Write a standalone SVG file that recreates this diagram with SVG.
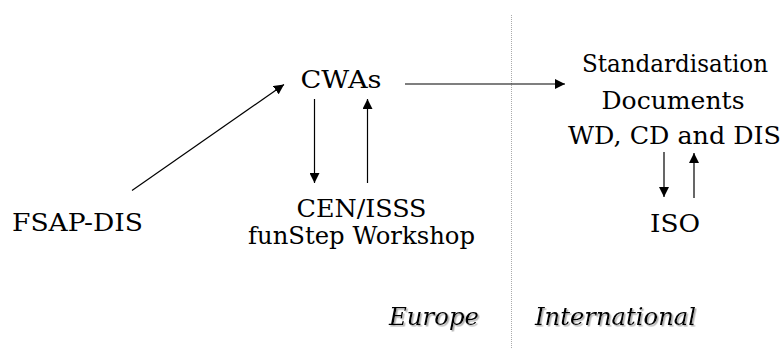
<svg xmlns="http://www.w3.org/2000/svg" width="783" height="349" viewBox="0 0 783 349">
<defs>
<marker id="ah" viewBox="0 0 10 10" refX="10" refY="5" markerWidth="10" markerHeight="10" markerUnits="userSpaceOnUse" orient="auto">
<path d="M0,0 L10,5 L0,10 Z" fill="#000"/>
</marker>
<filter id="sh" x="-10%" y="-20%" width="130%" height="150%">
<feDropShadow dx="1.5" dy="1.5" stdDeviation="0.6" flood-color="#999" flood-opacity="0.8"/>
</filter>
</defs>
<style>
.c{stroke:#000;stroke-width:1.2;fill:none;marker-end:url(#ah)}
.div{stroke:#aaa;stroke-width:1;stroke-dasharray:1 1;fill:none}
.t{font-family:"DejaVu Serif", "Liberation Serif", serif;font-size:25px;fill:#000;text-anchor:middle}
</style>
<rect width="783" height="349" fill="#fff"/>
<line class="div" x1="511.5" y1="15" x2="511.5" y2="349"/>
<g id="connectors">
<line class="c" x1="132" y1="190.5" x2="284" y2="84.5"/>
<line class="c" x1="314.5" y1="99" x2="314.5" y2="183"/>
<line class="c" x1="367.5" y1="183" x2="367.5" y2="99"/>
<line class="c" x1="405" y1="84" x2="565" y2="84"/>
<line class="c" x1="664" y1="152" x2="664" y2="197"/>
<line class="c" x1="694" y1="198" x2="694" y2="153"/>
</g>
<g class="t">
<g id="cwas"><text x="341" y="88" textLength="81" lengthAdjust="spacingAndGlyphs">CWAs</text></g>
<g id="fsap"><text x="77.5" y="231" textLength="131" lengthAdjust="spacingAndGlyphs">FSAP-DIS</text></g>
<g id="cen"><text x="361.5" y="216.5" textLength="130" lengthAdjust="spacingAndGlyphs">CEN/ISSS</text><text x="361.5" y="244" textLength="227" lengthAdjust="spacingAndGlyphs">funStep Workshop</text></g>
<g id="std"><text x="675" y="72" textLength="186" lengthAdjust="spacingAndGlyphs">Standardisation</text><text x="673" y="108.5" textLength="143" lengthAdjust="spacingAndGlyphs">Documents</text><text x="674.5" y="144" textLength="213" lengthAdjust="spacingAndGlyphs">WD, CD and DIS</text></g>
<g id="iso"><text x="675" y="232" textLength="50" lengthAdjust="spacingAndGlyphs">ISO</text></g>
<g id="europe"><text x="434" y="325" font-style="italic" filter="url(#sh)" textLength="90" lengthAdjust="spacingAndGlyphs">Europe</text></g>
<g id="international"><text x="615.5" y="325" font-style="italic" filter="url(#sh)" textLength="161" lengthAdjust="spacingAndGlyphs">International</text></g>
</g>
</svg>
